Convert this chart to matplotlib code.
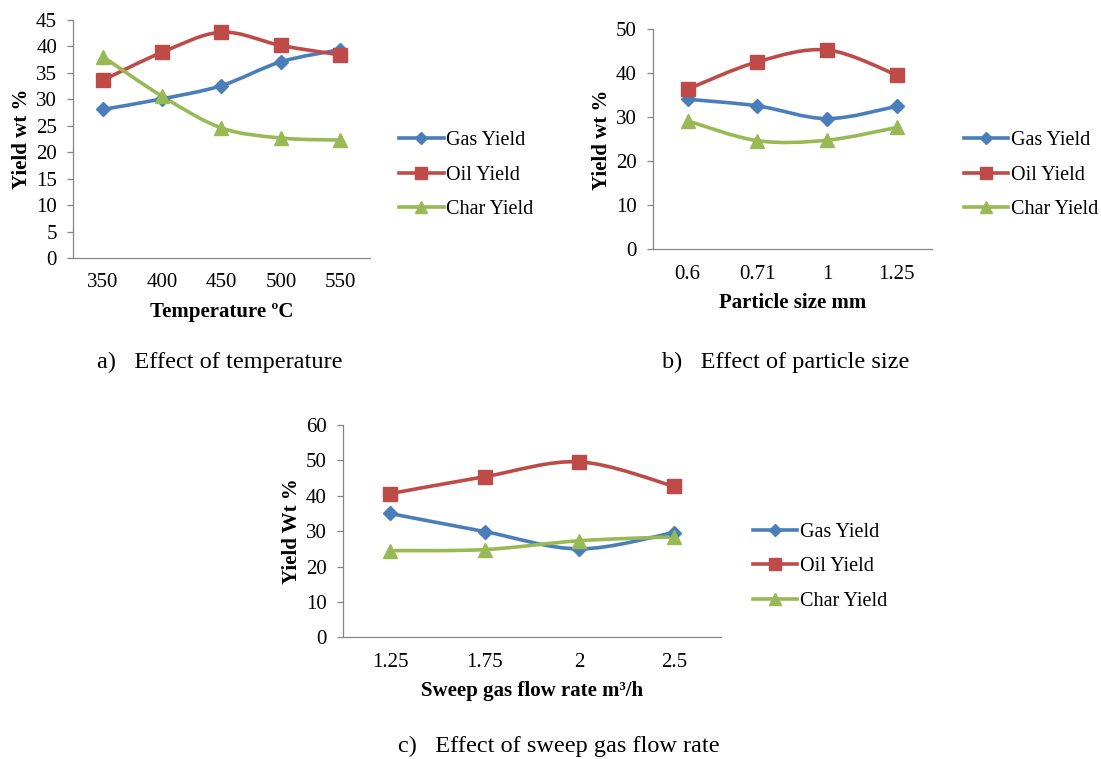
import matplotlib
matplotlib.use("Agg")
import matplotlib.pyplot as plt
from matplotlib.path import Path
from matplotlib.patches import PathPatch
from matplotlib.lines import Line2D

plt.rcParams['font.family'] = ['Liberation Serif', 'DejaVu Serif']

# panel a - temperature
temp_labels = ['350', '400', '450', '500', '550']
temp_gas = [28.1, 30.1, 32.6, 37.1, 39.4]
temp_oil = [33.6, 38.9, 42.7, 40.2, 38.4]
temp_char = [38.1, 30.6, 24.6, 22.7, 22.3]

# panel b - particle size
size_labels = ['0.6', '0.71', '1', '1.25']
size_gas = [34.1, 32.6, 29.7, 32.5]
size_oil = [36.4, 42.6, 45.3, 39.6]
size_char = [29.2, 24.7, 24.8, 27.7]

# panel c - sweep gas flow rate
flow_labels = ['1.25', '1.75', '2', '2.5']
flow_gas = [35.0, 29.9, 25.0, 29.6]
flow_oil = [40.6, 45.4, 49.6, 42.7]
flow_char = [24.5, 24.8, 27.3, 28.4]

series_names = ['Gas Yield', 'Oil Yield', 'Char Yield']
colors = ['#4A7EBB', '#BE4B48', '#98B954']
markers = ['D', 's', '^']
msizes = [7.5, 9.5, 10]

TICK_FS = 15
LAB_FS = 15
LEG_FS = 14.5
CAP_FS = 17.5


def smooth_path(xs, ys):
    # cubic bezier through points (catmull-rom style, like Excel smoothing)
    pts = list(zip(xs, ys))
    n = len(pts)
    verts = [pts[0]]
    codes = [Path.MOVETO]
    for i in range(n - 1):
        p0 = pts[i - 1] if i > 0 else pts[i]
        p1 = pts[i]
        p2 = pts[i + 1]
        p3 = pts[i + 2] if i + 2 < n else pts[i + 1]
        c1 = (p1[0] + (p2[0] - p0[0]) / 6, p1[1] + (p2[1] - p0[1]) / 6)
        c2 = (p2[0] - (p3[0] - p1[0]) / 6, p2[1] - (p3[1] - p1[1]) / 6)
        verts += [c1, c2, p2]
        codes += [Path.CURVE4] * 3
    return Path(verts, codes)


def draw_panel(ax, labels, data, ymax, ystep, xlabel, ylabel):
    xs = list(range(len(labels)))
    for vals, c, m, ms in zip(data, colors, markers, msizes):
        patch = PathPatch(smooth_path(xs, vals), facecolor='none', edgecolor=c,
                          lw=2.6, capstyle='round', joinstyle='round', zorder=2)
        ax.add_patch(patch)
        ax.plot(xs, vals, linestyle='none', marker=m, ms=ms, color=c,
                markeredgecolor=c, zorder=3)
    ax.set_xlim(-0.5, len(labels) - 0.5)
    ax.set_ylim(0, ymax)
    ax.set_xticks(xs)
    ax.set_xticklabels(labels)
    ax.set_yticks(range(0, ymax + 1, ystep))
    for s in ['top', 'right']:
        ax.spines[s].set_visible(False)
    for s in ['left', 'bottom']:
        ax.spines[s].set_color('#868686')
        ax.spines[s].set_linewidth(0.9)
    ax.tick_params(axis='x', length=0, pad=11, labelsize=TICK_FS)
    ax.tick_params(axis='y', length=4, width=0.9, color='#868686', pad=7.5,
                   labelsize=TICK_FS)
    ax.set_xlabel(xlabel, fontsize=LAB_FS, fontweight='bold', labelpad=7)
    ax.set_ylabel(ylabel, fontsize=LAB_FS, fontweight='bold', labelpad=3)


def add_legend(fig, x, y):
    handles = [Line2D([0], [0], color=c, lw=2.6, marker=m, ms=ms * 0.85,
                      markeredgecolor=c)
               for c, m, ms in zip(colors, markers, msizes)]
    fig.legend(handles, series_names, loc='upper left', bbox_to_anchor=(x, y),
               frameon=False, fontsize=LEG_FS, handlelength=2.2,
               handletextpad=0.12, labelspacing=0.77, borderaxespad=0,
               borderpad=0)


fig = plt.figure(figsize=(11.01, 7.59), dpi=100)

ax_a = fig.add_axes([0.0663, 0.660, 0.2697, 0.3136])
draw_panel(ax_a, temp_labels, [temp_gas, temp_oil, temp_char], 45, 5,
           'Temperature ºC', 'Yield wt %')
add_legend(fig, 0.3627, 0.8274)

ax_b = fig.add_axes([0.5928, 0.6715, 0.2535, 0.2899])
draw_panel(ax_b, size_labels, [size_gas, size_oil, size_char], 50, 10,
           'Particle size mm', 'Yield wt %')
add_legend(fig, 0.8757, 0.8274)

ax_c = fig.add_axes([0.3113, 0.1603, 0.3436, 0.2797])
draw_panel(ax_c, flow_labels, [flow_gas, flow_oil, flow_char], 60, 10,
           'Sweep gas flow rate m³/h', 'Yield Wt %')
add_legend(fig, 0.6838, 0.3114)

fig.text(97 / 1101, 1 - 362 / 759, 'a)   Effect of temperature', fontsize=CAP_FS,
         va='center', ha='left')
fig.text(662 / 1101, 1 - 362 / 759, 'b)   Effect of particle size', fontsize=CAP_FS,
         va='center', ha='left')
fig.text(398 / 1101, 1 - 746 / 759, 'c)   Effect of sweep gas flow rate',
         fontsize=CAP_FS, va='center', ha='left')

fig.savefig('out.png', dpi=100)
